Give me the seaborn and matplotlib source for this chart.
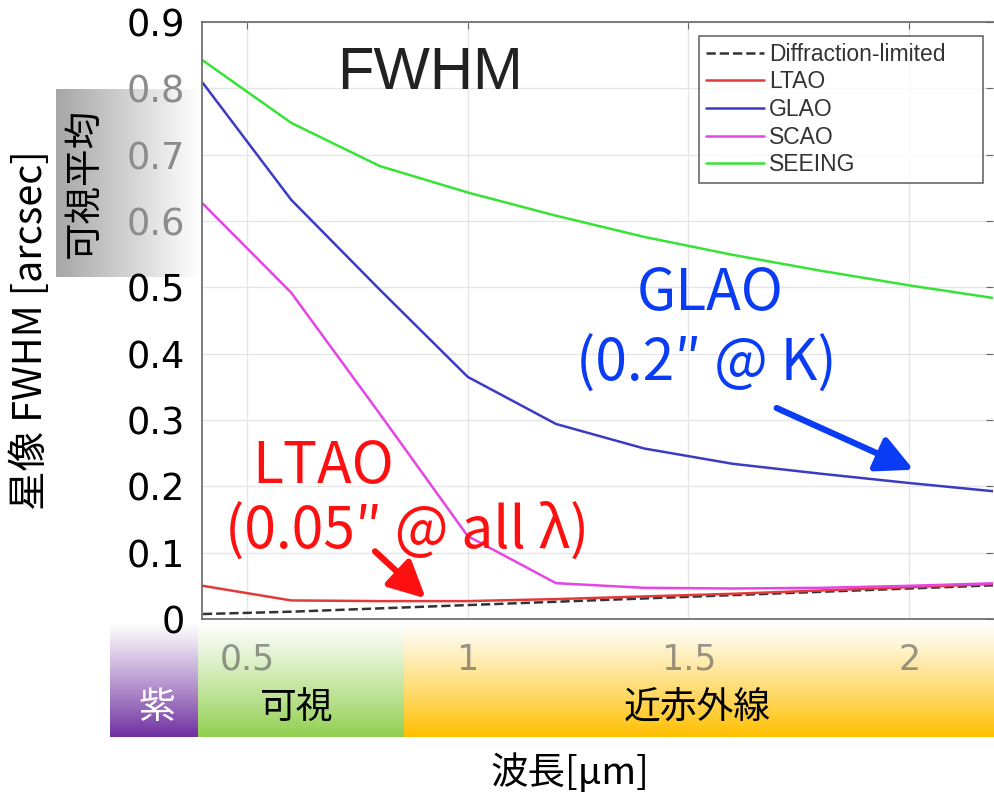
import numpy as np
import pandas as pd
import matplotlib
matplotlib.use("Agg")
import matplotlib.pyplot as plt
from matplotlib.colors import to_rgb
import seaborn as sns

# ---------------- data ----------------
wavelength = [0.4, 0.6, 0.8, 1.0, 1.2, 1.4, 1.6, 1.8, 2.0, 2.2]
diffraction = [0.0075, 0.011, 0.016, 0.021, 0.026, 0.031, 0.036, 0.041, 0.046, 0.051]
ltao = [0.050, 0.028, 0.027, 0.027, 0.030, 0.034, 0.038, 0.043, 0.048, 0.053]
glao = [0.808, 0.632, 0.497, 0.365, 0.294, 0.257, 0.234, 0.219, 0.205, 0.192]
scao = [0.626, 0.492, 0.310, 0.125, 0.054, 0.047, 0.046, 0.047, 0.050, 0.054]
seeing = [0.842, 0.748, 0.683, 0.643, 0.608, 0.576, 0.549, 0.525, 0.503, 0.483]

series_names = ["Diffraction-limited", "LTAO", "GLAO", "SCAO", "SEEING"]
series_values = [diffraction, ltao, glao, scao, seeing]
series_colors = ["#333333", "#e23a3a", "#3b3bc4", "#e445e4", "#36e336"]

x_ticks = [0.5, 1, 1.5, 2]
x_tick_labels = ["0.5", "1", "1.5", "2"]
y_ticks = [0, 0.1, 0.2, 0.3, 0.4, 0.5, 0.6, 0.7, 0.8, 0.9]
y_tick_labels = ["0", "0.1", "0.2", "0.3", "0.4", "0.5", "0.6", "0.7", "0.8", "0.9"]

bands = ["紫", "可視", "近赤外線"]
band_colors = ["#7030a0", "#92d050", "#ffc000"]
band_text_colors = ["white", "black", "black"]

# ---------------- style ----------------
sns.set_style("white")
plt.rcParams["font.family"] = ["Noto Sans CJK JP", "DejaVu Sans"]

W, H = 994, 796
fig = plt.figure(figsize=(W / 100, H / 100), dpi=100)


def fx(px):
    return px / W


def fy(py):
    return 1 - py / H


# gray gradient box behind "可視平均"
gax = fig.add_axes([fx(56), fy(277), fx(200 - 56), fy(89) - fy(277)], zorder=0)
g = np.linspace(0, 1, 256)
c0 = np.array(to_rgb("#a6a6a6"))
c1 = np.array([1.0, 1.0, 1.0])
grad = (c0[None, :] * (1 - g[:, None]) + c1[None, :] * g[:, None])[None, :, :]
gax.imshow(grad, aspect="auto", extent=[0, 1, 0, 1])
gax.set_axis_off()

# wavelength band strip
bx0, bx1, by0, by1 = 110, 994, 622, 737
bax = fig.add_axes([fx(bx0), fy(by1), fx(bx1 - bx0), fy(by0) - fy(by1)], zorder=0)
band_edges = [110, 198, 404, 994]
t = np.linspace(0, 1, 256)
for i, col in enumerate(band_colors):
    c = np.array(to_rgb(col))
    w = np.array([1.0, 1.0, 1.0])
    frac = t ** 1.1
    img = (w[None, :] * (1 - frac[:, None]) + c[None, :] * frac[:, None])[:, None, :]
    bax.imshow(img, aspect="auto", extent=[band_edges[i], band_edges[i + 1], 0, 1],
               origin="upper")
bax.set_xlim(bx0, bx1)
bax.set_ylim(0, 1)
bax.set_axis_off()
band_centers = [157, 297, 697]
for name, cx, tc in zip(bands, band_centers, band_text_colors):
    bax.text(cx, 0.26, name, ha="center", va="center", fontsize=26.5, color=tc)

# main axes
ax = fig.add_axes([fx(202), fy(619), fx(993 - 202), fy(22) - fy(619)], zorder=2)
for name, vals, col in zip(series_names, series_values, series_colors):
    ls = "--" if name == "Diffraction-limited" else "-"
    sns.lineplot(x=wavelength, y=vals, ax=ax, color=col, lw=1.8, linestyle=ls,
                 label=name)

ax.set_xlim(0.398, 2.19)
ax.set_ylim(0, 0.9)
ax.set_xticks(x_ticks)
ax.set_xticklabels(x_tick_labels, family="DejaVu Sans")
ax.set_yticks(y_ticks)
ax.set_yticklabels(y_tick_labels, family="DejaVu Sans")
ax.grid(True, color="#e6e6e6", lw=1.0)
ax.set_axisbelow(True)
for s in ["left", "bottom", "top"]:
    ax.spines[s].set_color("#666666")
    ax.spines[s].set_linewidth(1.2)
ax.spines["right"].set_visible(False)
ax.tick_params(axis="both", direction="in", length=5, color="#666666",
               top=True, right=True)
ax.tick_params(axis="y", labelsize=26.5, pad=12, labelcolor="black")
ax.tick_params(axis="x", labelsize=25, pad=17)
for lab in ax.get_xticklabels():
    lab.set_color("#555555")
    lab.set_alpha(0.6)
for lab in ax.get_yticklabels():
    if lab.get_text() in ("0.6", "0.7", "0.8"):
        lab.set_color("#8c8c8c")
ax.set_xlabel("")
ax.set_ylabel("")

leg = ax.legend(loc="upper left", bbox_to_anchor=(0.628, 0.9765, 0.359, 0.0),
                mode="expand",
                prop={"family": "Liberation Sans", "size": 16.5},
                frameon=True, fancybox=False, edgecolor="#444444",
                handlelength=2.55, handletextpad=0.2, labelspacing=0.2,
                borderpad=0.3, borderaxespad=0.0)
leg.get_frame().set_linewidth(1.2)
for txt in leg.get_texts():
    txt.set_color("#333333")

# title inside plot
ax.text(0.915, 0.822, "FWHM", ha="center", va="center",
        fontsize=43, color="#222222", family="Liberation Sans")

# annotations
blue = "#0a3cf5"
red = "#ff1010"
ax.text(1.55, 0.49, "GLAO", ha="center", va="center", fontsize=41, color=blue)
ax.text(1.54, 0.383, "(0.2″ @ K)", ha="center", va="center", fontsize=41, color=blue)
ax.annotate("", xy=(2.01, 0.225), xytext=(1.70, 0.318),
            arrowprops=dict(arrowstyle="-|>,head_length=1.0,head_width=0.5",
                            color=blue, lw=4.5, mutation_scale=22, shrinkA=0, shrinkB=0))
ax.text(0.672, 0.229, "LTAO", ha="center", va="center", fontsize=41, color=red)
ax.text(0.862, 0.132, "(0.05″ @ all λ)", ha="center", va="center", fontsize=41, color=red)
ax.annotate("", xy=(0.905, 0.031), xytext=(0.79, 0.102),
            arrowprops=dict(arrowstyle="-|>,head_length=1.0,head_width=0.5",
                            color=red, lw=4.5, mutation_scale=22, shrinkA=0, shrinkB=0))

# axis labels (figure text)
fig.text(fx(31), fy(330), "星像 FWHM [arcsec]", rotation=90, ha="center", va="center",
         fontsize=28.5, color="black")
fig.text(fx(84), fy(183), "可視平均", rotation=90, ha="center", va="center",
         fontsize=27, color="black", zorder=3)
fig.text(fx(570), fy(773), "波長[μm]", ha="center", va="center", fontsize=27,
         color="black")

fig.savefig("out.png", dpi=100)
